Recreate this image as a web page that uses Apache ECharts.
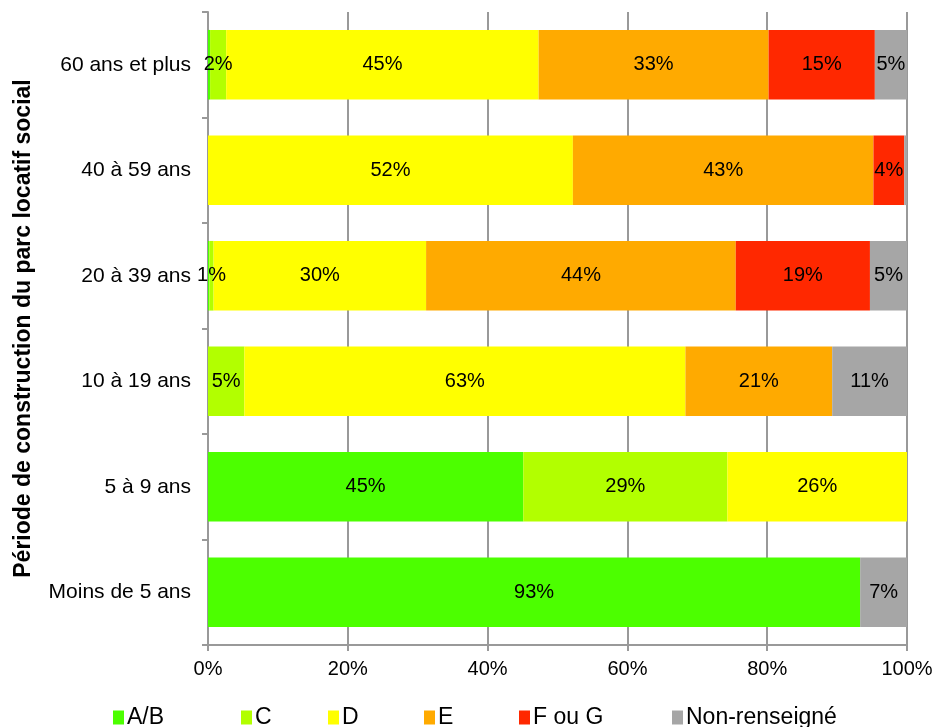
<!DOCTYPE html>
<html>
<head>
<meta charset="utf-8">
<script src="https://cdn.jsdelivr.net/npm/echarts@6/dist/echarts.min.js"></script>
<style>
  html, body { margin: 0; padding: 0; background: #fff; }
  #chart { width: 938px; height: 727px; }
</style>
</head>
<body>
<div id="chart"></div>
<script type="text/javascript">
  // catégories (du bas vers le haut)
  var periodes = ['Moins de 5 ans', '5 à 9 ans', '10 à 19 ans', '20 à 39 ans', '40 à 59 ans', '60 ans et plus'];
  var xTicks = [0, 20, 40, 60, 80, 100];

  // parts en %
  var classeAB = [93.3, 45.1, 0, 0.2, 0, 0.3];
  var classeC = [0, 29.2, 5.2, 0.6, 0, 2.3];
  var classeD = [0, 25.7, 63.1, 30.4, 52.2, 44.7];
  var classeE = [0, 0, 21.0, 44.3, 43.0, 32.9];
  var classeFG = [0, 0, 0, 19.2, 4.4, 15.2];
  var nonRens = [6.7, 0, 10.7, 5.3, 0.4, 4.6];

  var noms = ['A/B', 'C', 'D', 'E', 'F ou G', 'Non-renseigné'];
  var couleurs = ['#4cff00', '#b2ff00', '#ffff00', '#ffaa00', '#ff2800', '#a6a6a6'];
  var valeurs = [classeAB, classeC, classeD, classeE, classeFG, nonRens];
  // position gauche de chaque entrée de légende
  var legendeX = [108, 236, 323, 419, 514, 667];

  var police = 'Liberation Sans, Arial, sans-serif';
  var chart = echarts.init(document.getElementById('chart'));

  var series = noms.map(function (nom, i) {
    return {
      name: nom,
      type: 'bar',
      stack: 'total',
      barCategoryGap: '34%',
      itemStyle: { color: couleurs[i] },
      label: {
        show: true,
        position: 'inside',
        color: '#000',
        fontFamily: police,
        fontSize: 20,
        formatter: function (p) {
          var v = Math.round(p.value);
          return v > 0 ? v + '%' : '';
        }
      },
      data: valeurs[i]
    };
  });

  // une légende par entrée pour reproduire l'espacement d'Excel
  var legendes = noms.map(function (nom, i) {
    return {
      data: [nom],
      left: legendeX[i],
      top: 701,
      icon: 'rect',
      itemWidth: 11,
      itemHeight: 14,
      itemGap: 0,
      textStyle: { fontSize: 23, color: '#000', fontFamily: police, padding: [0, 0, 0, -2] }
    };
  });

  var option = {
    animation: false,
    textStyle: { fontFamily: police },
    grid: { left: 208, right: 31, top: 12, bottom: 82, outerBoundsMode: 'none' },
    legend: legendes,
    xAxis: {
      type: 'value',
      min: xTicks[0],
      max: xTicks[xTicks.length - 1],
      interval: 20,
      axisLine: { show: true, lineStyle: { color: '#999', width: 2 } },
      axisTick: { show: true, length: 6, lineStyle: { color: '#999', width: 2 } },
      axisLabel: { formatter: '{value}%', color: '#000', fontSize: 20, margin: 14 },
      splitLine: { show: true, lineStyle: { color: '#999', width: 2 } }
    },
    yAxis: {
      type: 'category',
      data: periodes,
      name: 'Période de construction du parc locatif social',
      nameLocation: 'middle',
      nameGap: 173,
      nameTextStyle: { fontSize: 23, fontWeight: 'bold', color: '#000' },
      axisLine: { lineStyle: { color: '#999', width: 2 } },
      axisTick: { show: true, length: 6, lineStyle: { color: '#999', width: 2 } },
      axisLabel: { color: '#000', fontSize: 21, margin: 17 }
    },
    series: series
  };

  chart.setOption(option);
</script>
</body>
</html>
